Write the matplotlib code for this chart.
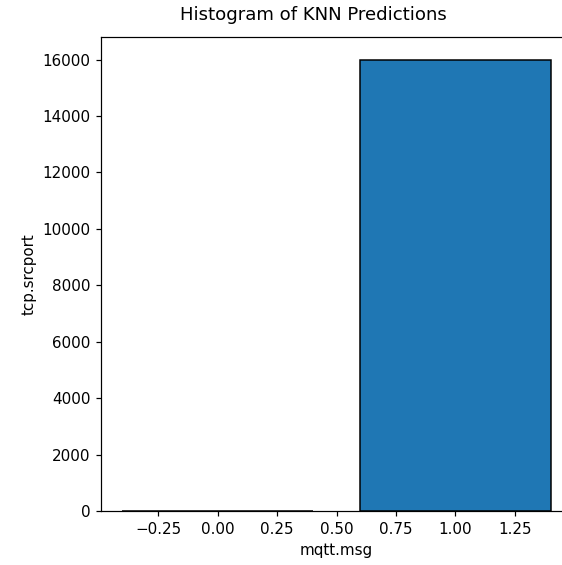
import matplotlib
matplotlib.use('Agg')
import matplotlib.pyplot as plt

# predicted classes and how many samples fell into each
classes = [0, 1]
counts = [10, 16000]

DPI = 109
fig = plt.figure(figsize=(562 / DPI, 565 / DPI), dpi=DPI)
# the original was cropped on the right, so the axes runs past the edge
ax = fig.add_axes([101 / 562, 1 - 511 / 565, 471 / 562, 474 / 565])

ax.bar(classes, counts, width=0.8, color='#1f77b4', edgecolor='black')

ax.set_title("Histogram of KNN Predictions", fontsize=12, x=0.45, pad=11)
ax.set_xlabel("mqtt.msg", fontsize=10)
ax.set_ylabel("tcp.srcport", fontsize=10)
ax.tick_params(labelsize=10)

fig.savefig('out.png', dpi=DPI)
